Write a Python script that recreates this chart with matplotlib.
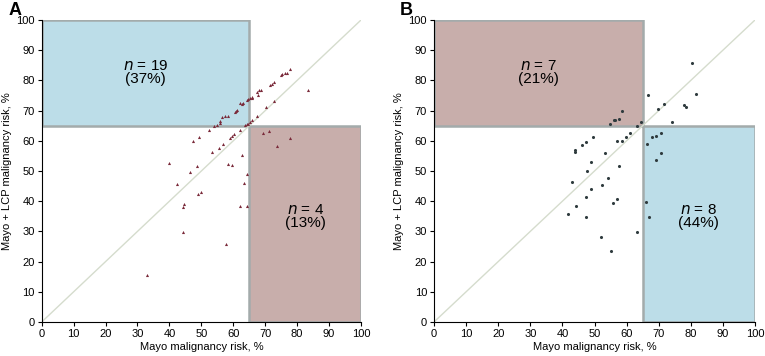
import matplotlib.pyplot as plt
from matplotlib.patches import Rectangle

plt.rcParams['font.family'] = ['Liberation Sans', 'DejaVu Sans']

# panel A: Mayo vs Mayo + LCP (triangles)
a_x = [77.8, 76.7, 76.2, 75.4, 75.0, 83.5, 72.7, 72.1, 71.5, 68.7, 68.2, 67.3, 67.8,
       66.0, 65.8, 65.2, 64.7, 64.2, 63.2, 62.6, 62.1, 61.1, 60.9, 60.5, 58.5, 57.4,
       56.4, 55.8, 55.8, 54.8, 54.1, 52.3, 70.3, 72.7, 63.7, 64.2, 64.7, 65.2, 66.0,
       67.3, 62.1, 69.4, 71.2, 77.9, 73.8, 60.1, 59.6, 59.0, 56.9, 55.5, 53.2, 49.3,
       47.5, 62.6, 40.0, 48.7, 58.4, 59.5, 46.3, 64.2, 63.4, 42.4, 49.9, 48.9, 44.6,
       44.3, 62.1, 64.3, 44.4, 57.8, 32.9]
a_y = [83.9, 82.5, 82.3, 82.0, 81.7, 76.9, 79.5, 78.9, 78.6, 76.9, 76.7, 76.2, 75.3,
       74.5, 74.2, 74.3, 74.0, 73.6, 72.5, 72.2, 72.6, 70.3, 69.9, 69.5, 68.3, 68.1,
       67.9, 66.4, 65.9, 65.1, 65.0, 63.6, 71.3, 73.1, 65.1, 65.5, 65.7, 66.2, 66.8,
       68.1, 63.6, 62.6, 63.4, 61.0, 58.4, 62.1, 61.7, 61.0, 59.1, 57.7, 56.4, 61.4,
       60.0, 55.2, 52.8, 51.8, 52.2, 52.1, 49.7, 49.0, 46.1, 45.7, 43.0, 42.3, 39.2,
       38.1, 38.5, 38.4, 29.7, 25.7, 15.6]

# panel B: Mayo vs Mayo + LCP (dots)
b_x = [80.5, 81.6, 66.7, 71.5, 69.8, 77.9, 78.6, 74.1, 58.5, 57.5, 56.5, 56.2, 54.7,
       64.6, 63.3, 61.0, 59.7, 58.5, 57.0, 49.5, 47.2, 46.0, 44.0, 43.9, 53.2, 49.0,
       47.8, 57.7, 54.1, 43.1, 52.4, 48.8, 47.2, 44.3, 57.0, 55.9, 41.8, 47.5, 51.9,
       55.2, 63.1, 66.4, 68.0, 69.1, 70.6, 70.7, 69.3, 66.0, 67.0]
b_y = [85.8, 75.4, 75.1, 72.2, 70.6, 71.7, 71.2, 66.1, 70.0, 67.1, 67.0, 67.0, 65.6,
       66.2, 64.9, 62.6, 61.1, 60.0, 59.8, 61.4, 59.5, 58.5, 56.8, 56.4, 55.9, 53.1,
       49.9, 51.5, 47.6, 46.4, 45.4, 43.9, 41.5, 38.3, 40.6, 39.5, 35.7, 34.8, 28.0,
       23.5, 29.8, 58.8, 61.1, 61.7, 62.7, 55.8, 53.6, 39.7, 34.8]

blue = '#bcdde8'
red = '#c8aeab'
edge = '#a3abab'

fig = plt.figure(figsize=(7.65, 3.56), dpi=100)
axA = fig.add_axes([41.7/765, 34/356, 319.3/765, 302/356])
axB = fig.add_axes([434/765, 34/356, 321/765, 302/356])

panels = [
    (axA, 'A', a_x, a_y, '^', '#7a2a3a', blue, red, ('19', '37%'), ('4', '13%')),
    (axB, 'B', b_x, b_y, 'o', '#2f3b3e', red, blue, ('7', '21%'), ('8', '44%')),
]

for ax, letter, xs, ys, mk, mc, c_up, c_low, t_up, t_low in panels:
    ax.add_patch(Rectangle((0, 65), 65, 35, facecolor=c_up, edgecolor=edge, lw=1.8, zorder=1))
    ax.add_patch(Rectangle((65, 0), 35, 65, facecolor=c_low, edgecolor=edge, lw=1.8, zorder=1))
    ax.plot([0, 100], [0, 100], color='#d5dccd', lw=1, zorder=2)
    ax.scatter(xs, ys, marker=mk, s=5, color=mc, linewidths=0, zorder=3)
    ax.text(32.5, 82.5, '$n$ = %s\n(%s)' % t_up, ha='center', va='center',
            fontsize=11, linespacing=0.9, zorder=4)
    ax.text(82.5, 35, '$n$ = %s\n(%s)' % t_low, ha='center', va='center',
            fontsize=11, linespacing=0.9, zorder=4)
    ax.set_xlim(0, 100)
    ax.set_ylim(0, 100)
    ax.set_xticks(range(0, 101, 10))
    ax.set_yticks(range(0, 101, 10))
    ax.tick_params(labelsize=8, length=3, width=0.8, pad=2)
    for s in ['top', 'right']:
        ax.spines[s].set_visible(False)
    ax.set_xlabel('Mayo malignancy risk, %', fontsize=8, labelpad=2)
    ax.set_ylabel('Mayo + LCP malignancy risk, %', fontsize=8, labelpad=3)
    ax.text(-0.085, 1.03, letter, transform=ax.transAxes, fontsize=13,
            fontweight='bold', ha='center', va='center')

fig.savefig('out.png', dpi=100)
